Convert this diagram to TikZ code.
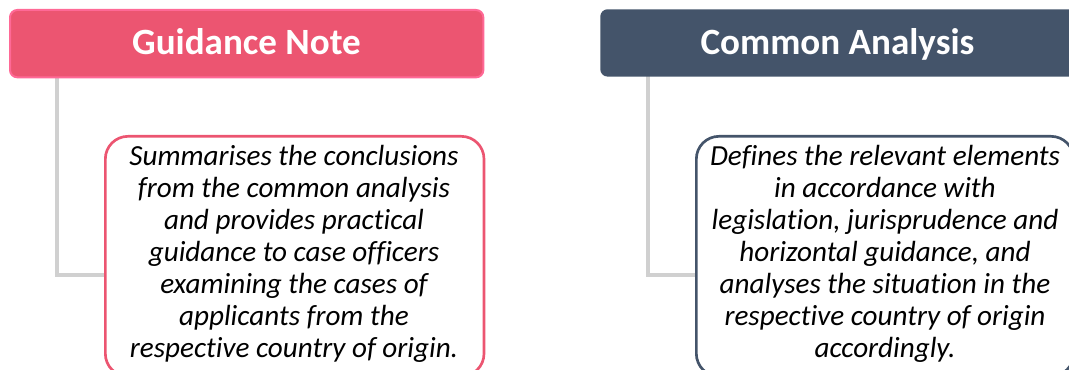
\documentclass[tikz,border=0pt]{standalone}
\usepackage{fontspec}
\setmainfont{Carlito}[Ligatures=NoCommon]
\definecolor{pinkfill}{RGB}{236,85,113}
\definecolor{pinkedge}{RGB}{255,105,150}
\definecolor{pinkline}{RGB}{236,85,113}
\definecolor{slatefill}{RGB}{68,84,106}
\definecolor{linkgray}{RGB}{208,208,208}
\tikzset{
  headbox/.style={rounded corners=5.5pt, minimum height=50.5pt, inner sep=0pt, anchor=north west},
  headtext/.style={text=white, anchor=base, inner sep=0pt, font=\fontsize{27.8}{30}\selectfont\bfseries},
  bodybox/.style={draw, line width=2pt, fill=white, rounded corners=17pt, anchor=north west, inner sep=0pt},
  bodytext/.style={align=center, inner sep=0pt, text=black, font=\fontsize{21.85}{24}\selectfont\itshape},
  linkline/.style={draw=linkgray, line width=2.4pt},
}
\begin{document}
\begin{tikzpicture}[x=0.75pt,y=-0.75pt]
\useasboundingbox (0,0) rectangle (1069,370);
\clip (0,0) rectangle (1069,370);
\coordinate (s1) at (57,76);
\coordinate (j1) at (106,275);
\coordinate (s2) at (648,76);
\coordinate (j2) at (697,275);
\draw[linkline] (s1) |- (j1);
\draw[linkline] (s2) |- (j2);
\node[headbox, fill=pinkfill, draw=pinkedge, line width=1.5pt, minimum width=355pt] (h1) at (9,9) {};
\node[headtext] (t1) at (246.5,54.5) {Guidance Note};
\node[headbox, fill=slatefill, minimum width=370pt] (h2) at (600,9) {};
\node[headtext] (t2) at (837.5,54.5) {Common Analysis};
\node[bodybox, draw=pinkline, minimum width=284pt, minimum height=180pt] (b1) at (104,135) {};
\node[bodytext] (x1) at (294,254) {Summarises the conclusions\\from the common analysis\\and provides practical\\guidance to case officers\\examining the cases of\\applicants from the\\respective country of origin.};
\node[bodybox, draw=slatefill, minimum width=283pt, minimum height=180pt] (b2) at (695,135) {};
\node[bodytext] (x2) at (885,254) {Defines the relevant elements\\in accordance with\\legislation, jurisprudence and\\horizontal guidance, and\\analyses the situation in the\\respective country of origin\\accordingly.};
\end{tikzpicture}
\end{document}
